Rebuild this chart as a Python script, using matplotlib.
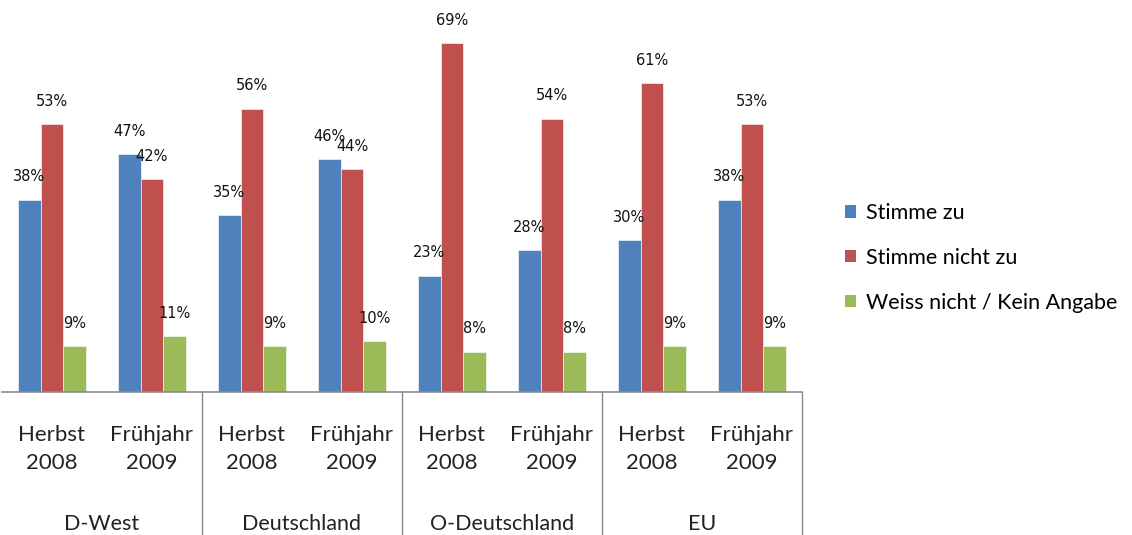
import matplotlib
matplotlib.use("Agg")
import matplotlib.pyplot as plt
import numpy as np
from matplotlib.patches import Patch

groups = ["D-West", "Deutschland", "O-Deutschland", "EU"]
periods = ["Herbst\n2008", "Frühjahr\n2009"]
series_names = ["Stimme zu", "Stimme nicht zu", "Weiss nicht / Kein Angabe"]
stimme_zu = [38, 47, 35, 46, 23, 28, 30, 38]
stimme_nicht_zu = [53, 42, 56, 44, 69, 54, 61, 53]
weiss_nicht = [9, 11, 9, 10, 8, 8, 9, 9]
colors = ["#4F81BD", "#C0504D", "#9BBB59"]

W, H = 1132, 535
fig = plt.figure(figsize=(W / 100, H / 100), dpi=100)
ax = fig.add_axes([2 / W, (H - 392) / H, 800 / W, 389.6 / H])

x = np.arange(len(stimme_zu))
bw = 0.225
data = [stimme_zu, stimme_nicht_zu, weiss_nicht]
for i, (vals, c) in enumerate(zip(data, colors)):
    xs = x + (i - 1) * bw
    ax.bar(xs, vals, width=bw, color=c, edgecolor="white", linewidth=0.4, zorder=2)
    for xi, v in zip(xs, vals):
        ax.annotate(f"{v}%", (xi, v), xytext=(0, 11), textcoords="offset points",
                    ha="center", va="bottom", fontsize=10.5, family="DejaVu Sans",
                    color="#111111")

ax.set_xlim(-0.5, 7.5)
ax.set_ylim(0, 77)
for s in ["top", "right", "left"]:
    ax.spines[s].set_visible(False)
ax.spines["bottom"].set_color("#8c8c8c")
ax.spines["bottom"].set_linewidth(1.2)
ax.set_yticks([])
ax.set_xticks(x)
ax.set_xticklabels([periods[i % 2] for i in x], fontsize=16, family="Lato",
                   color="#222222", linespacing=1.5)
ax.tick_params(axis="x", length=0, pad=24)

trans = ax.get_xaxis_transform()
for gi, g in enumerate(groups):
    ax.text(2 * gi + 0.5, -0.339, g, transform=trans, ha="center", va="center",
            fontsize=15.5, family="Lato", color="#222222")
for sx in [1.5, 3.5, 5.5, 7.5]:
    ax.plot([sx, sx], [0, -0.37], transform=trans, color="#8c8c8c", lw=1.0,
            clip_on=False)

handles = [Patch(facecolor=c, edgecolor="none") for c in colors]
fig.legend(handles, series_names, loc="center left",
           bbox_to_anchor=(826 / W, 1 - 258 / H), frameon=False,
           prop={"family": "Lato", "size": 15.5}, handlelength=0.5,
           handleheight=0.5, handletextpad=0.45, labelspacing=1.15)

fig.savefig("out.png", dpi=100)
